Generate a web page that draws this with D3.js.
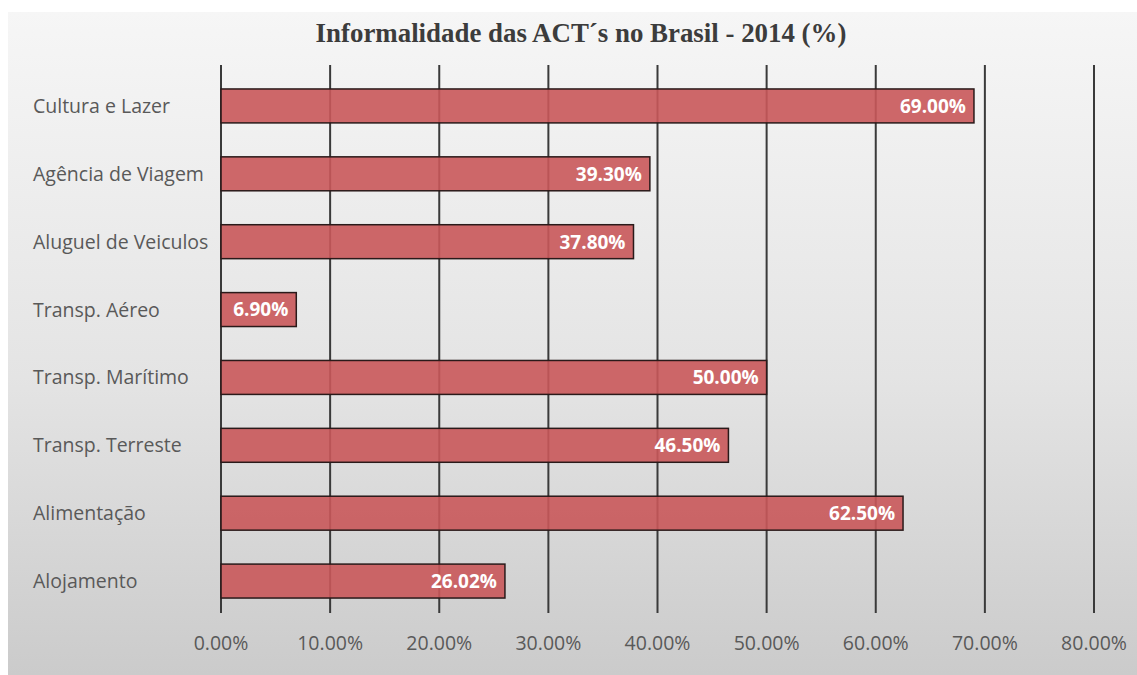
<!DOCTYPE html>
<html lang="pt">
<head>
<meta charset="utf-8">
<title>Informalidade das ACT´s no Brasil - 2014</title>
<script src="https://cdn.jsdelivr.net/npm/d3@7"></script>
<style>
  body { margin: 0; background: #fff; }
</style>
</head>
<body>
<script>
  // data, top to bottom as in the picture
  var categories = ["Cultura e Lazer", "Agência de Viagem", "Aluguel de Veiculos", "Transp. Aéreo",
                    "Transp. Marítimo", "Transp. Terreste", "Alimentação", "Alojamento"];
  var values = [69.00, 39.30, 37.80, 6.90, 50.00, 46.50, 62.50, 26.02];
  var tickValues = [0, 10, 20, 30, 40, 50, 60, 70, 80];

  var w = 1137, h = 675;
  var margin = { top: 72, left: 221, right: 43, bottom: 59 };

  var svg = d3.select("body").append("svg")
      .attr("width", w)
      .attr("height", h);

  // background gradient panel
  var defs = svg.append("defs");
  var grad = defs.append("linearGradient")
      .attr("id", "bg")
      .attr("x1", 0).attr("y1", 0).attr("x2", 0).attr("y2", 1);
  grad.append("stop").attr("offset", "0%").attr("stop-color", "#f6f6f6");
  grad.append("stop").attr("offset", "55%").attr("stop-color", "#e4e4e4");
  grad.append("stop").attr("offset", "100%").attr("stop-color", "#cbcbcb");

  svg.append("rect")
      .attr("x", 8).attr("y", 12)
      .attr("width", w - 8).attr("height", h - 12)
      .attr("fill", "url(#bg)");

  var xScale = d3.scaleLinear()
      .domain([0, 80])
      .range([margin.left, w - margin.right]);

  var yScale = d3.scaleBand()
      .domain(categories)
      .range([margin.top, h - margin.bottom - 1])
      .paddingInner(0.5)
      .paddingOuter(0.25);

  var sans = "Open Sans, sans-serif";

  // title
  svg.append("text")
      .attr("x", 581)
      .attr("y", 42)
      .attr("text-anchor", "middle")
      .attr("font-family", "Liberation Serif, serif")
      .attr("font-weight", "bold")
      .attr("font-size", "28px")
      .attr("fill", "#3c3c3c")
      .attr("transform", "translate(581,0) scale(0.96,1) translate(-581,0)")
      .text("Informalidade das ACT´s no Brasil - 2014 (%)");

  // vertical gridlines
  svg.selectAll("line.grid")
      .data(tickValues)
      .enter()
      .append("line")
      .attr("class", "grid")
      .attr("x1", function(d) { return xScale(d); })
      .attr("x2", function(d) { return xScale(d); })
      .attr("y1", 65)
      .attr("y2", 613)
      .attr("stroke", "#3a3a3a")
      .attr("stroke-width", 2);

  // x tick labels
  svg.selectAll("text.tick")
      .data(tickValues)
      .enter()
      .append("text")
      .attr("class", "tick")
      .attr("x", function(d) { return xScale(d); })
      .attr("y", 650)
      .attr("text-anchor", "middle")
      .attr("font-family", sans)
      .attr("font-size", "19.5px")
      .attr("fill", "#595959")
      .text(function(d) { return d.toFixed(2) + "%"; });

  // bars
  var rows = categories.map(function(c, i) { return { cat: c, value: values[i] }; });

  svg.selectAll("rect.bar")
      .data(rows)
      .enter()
      .append("rect")
      .attr("class", "bar")
      .attr("x", xScale(0))
      .attr("y", function(d) { return yScale(d.cat); })
      .attr("width", function(d) { return xScale(d.value) - xScale(0); })
      .attr("height", yScale.bandwidth())
      .attr("fill", "#c9585a")
      .attr("fill-opacity", 0.9)
      .attr("stroke", "#2a1a1a")
      .attr("stroke-width", 1.5);

  // value labels inside bar ends
  svg.selectAll("text.val")
      .data(rows)
      .enter()
      .append("text")
      .attr("class", "val")
      .attr("x", function(d) { return xScale(d.value) - 8; })
      .attr("y", function(d) { return yScale(d.cat) + yScale.bandwidth() / 2; })
      .attr("dy", "0.36em")
      .attr("text-anchor", "end")
      .attr("font-family", sans)
      .attr("font-weight", "bold")
      .attr("font-size", "19px")
      .attr("fill", "#ffffff")
      .text(function(d) { return d.value.toFixed(2) + "%"; });

  // category labels
  svg.selectAll("text.cat")
      .data(rows)
      .enter()
      .append("text")
      .attr("class", "cat")
      .attr("x", 33)
      .attr("y", function(d) { return yScale(d.cat) + yScale.bandwidth() / 2; })
      .attr("dy", "0.36em")
      .attr("font-family", sans)
      .attr("font-size", "19.5px")
      .attr("fill", "#595959")
      .text(function(d) { return d.cat; });
</script>
</body>
</html>
